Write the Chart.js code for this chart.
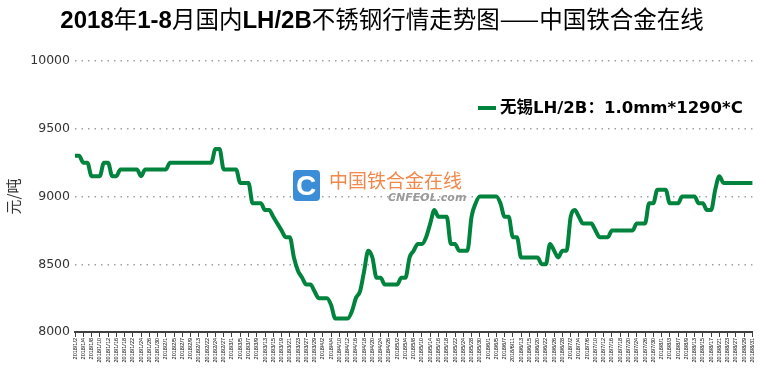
<!DOCTYPE html>
<html>
<head>
<meta charset="utf-8">
<script src="https://cdn.jsdelivr.net/npm/chart.js@4/dist/chart.umd.min.js"></script>
<style>
html, body { margin: 0; padding: 0; background: #fff; }
#wrap { width: 760px; height: 373px; }
</style>
</head>
<body>
<div id="wrap"><canvas id="priceChart" width="760" height="373"></canvas></div>
<script>
// Titres et légende
const chartTitle = '2018年1-8月国内LH/2B不锈钢行情走势图——中国铁合金在线';
const seriesName = '无锡LH/2B：1.0mm*1290*C';
const yAxisTitle = '元/吨';
const yTicks = [8000, 8500, 9000, 9500, 10000];

// Jours de cotation 2018
const dates = [
    '2018/1/2','2018/1/3','2018/1/4','2018/1/5','2018/1/8','2018/1/9','2018/1/10','2018/1/11','2018/1/12','2018/1/15',
    '2018/1/16','2018/1/17','2018/1/18','2018/1/19','2018/1/22','2018/1/23','2018/1/24','2018/1/25','2018/1/26','2018/1/29',
    '2018/1/30','2018/1/31',
    '2018/2/1','2018/2/2','2018/2/5','2018/2/6','2018/2/7','2018/2/8','2018/2/9','2018/2/12','2018/2/13','2018/2/14',
    '2018/2/22','2018/2/23','2018/2/24','2018/2/26','2018/2/27','2018/2/28',
    '2018/3/1','2018/3/2','2018/3/5','2018/3/6','2018/3/7','2018/3/8','2018/3/9','2018/3/12','2018/3/13','2018/3/14',
    '2018/3/15','2018/3/16','2018/3/19','2018/3/20','2018/3/21','2018/3/22','2018/3/23','2018/3/26','2018/3/27','2018/3/28',
    '2018/3/29','2018/3/30',
    '2018/4/2','2018/4/3','2018/4/4','2018/4/9','2018/4/10','2018/4/11','2018/4/12','2018/4/13','2018/4/16','2018/4/17',
    '2018/4/18','2018/4/19','2018/4/20','2018/4/23','2018/4/24','2018/4/25','2018/4/26','2018/4/27',
    '2018/5/2','2018/5/3','2018/5/4','2018/5/7','2018/5/8','2018/5/9','2018/5/10','2018/5/11','2018/5/14','2018/5/15',
    '2018/5/16','2018/5/17','2018/5/18','2018/5/21','2018/5/22','2018/5/23','2018/5/24','2018/5/25','2018/5/28','2018/5/29',
    '2018/5/30','2018/5/31',
    '2018/6/1','2018/6/4','2018/6/5','2018/6/6','2018/6/7','2018/6/8','2018/6/11','2018/6/12','2018/6/13','2018/6/14',
    '2018/6/15','2018/6/19','2018/6/20','2018/6/21','2018/6/22','2018/6/25','2018/6/26','2018/6/27','2018/6/28','2018/6/29',
    '2018/7/2','2018/7/3','2018/7/4','2018/7/5','2018/7/6','2018/7/9','2018/7/10','2018/7/11','2018/7/12','2018/7/13',
    '2018/7/16','2018/7/17','2018/7/18','2018/7/19','2018/7/20','2018/7/23','2018/7/24','2018/7/25','2018/7/26','2018/7/27',
    '2018/7/30','2018/7/31',
    '2018/8/1','2018/8/2','2018/8/3','2018/8/6','2018/8/7','2018/8/8','2018/8/9','2018/8/10','2018/8/13','2018/8/14',
    '2018/8/15','2018/8/16','2018/8/17','2018/8/20','2018/8/21','2018/8/22','2018/8/23','2018/8/24','2018/8/27','2018/8/28',
    '2018/8/29','2018/8/30','2018/8/31'
];

// Prix (元/吨)
const prices = [
    9300, 9300, 9250, 9250, 9150, 9150, 9150, 9250, 9250, 9150,
    9150, 9200, 9200, 9200, 9200, 9200, 9150, 9200, 9200, 9200,
    9200, 9200, 9200, 9250, 9250, 9250, 9250, 9250, 9250, 9250,
    9250, 9250, 9250, 9250, 9350, 9350, 9200, 9200, 9200, 9200,
    9100, 9100, 9100, 8950, 8950, 8950, 8900, 8900, 8850, 8800,
    8750, 8700, 8700, 8550, 8450, 8400, 8350, 8350, 8300, 8250,
    8250, 8250, 8200, 8100, 8100, 8100, 8100, 8150, 8250, 8300,
    8450, 8600, 8550, 8400, 8400, 8350, 8350, 8350, 8350, 8400,
    8400, 8550, 8600, 8650, 8650, 8700, 8800, 8900, 8850, 8850,
    8850, 8650, 8650, 8600, 8600, 8600, 8850, 8950, 9000, 9000,
    9000, 9000, 9000, 8950, 8850, 8850, 8700, 8700, 8550, 8550,
    8550, 8550, 8550, 8500, 8500, 8650, 8600, 8550, 8600, 8600,
    8850, 8900, 8850, 8800, 8800, 8800, 8750, 8700, 8700, 8700,
    8750, 8750, 8750, 8750, 8750, 8750, 8800, 8800, 8800, 8950,
    8950, 9050, 9050, 9050, 8950, 8950, 8950, 9000, 9000, 9000,
    9000, 8950, 8950, 8900, 8900, 9050, 9150, 9100, 9100, 9100,
    9100, 9100, 9100, 9100, 9100
];

const lineColor = '#00843D';

// Titre : chiffres en gras, caractères chinois en normal
const titlePlugin = {
    id: 'mixedTitle',
    afterDraw(chart) {
        const ctx = chart.ctx;
        const parts = chartTitle.match(/[\u4e00-\u9fff\u2014]+|[^\u4e00-\u9fff\u2014]+/g);
        const latinFont = 'bold 24px "Liberation Sans Narrow", "Liberation Sans", sans-serif';
        const cjkFont = '23.5px "Noto Sans CJK SC", sans-serif';
        const isCjk = s => /[\u4e00-\u9fff\u2014]/.test(s);
        let total = 0;
        parts.forEach(p => {
            ctx.font = isCjk(p) ? cjkFont : latinFont;
            total += ctx.measureText(p).width;
        });
        let x = 382 - total / 2;
        ctx.save();
        ctx.fillStyle = '#000';
        ctx.textBaseline = 'alphabetic';
        parts.forEach(p => {
            ctx.font = isCjk(p) ? cjkFont : latinFont;
            ctx.fillText(p, x, 28);
            x += ctx.measureText(p).width;
        });
        ctx.restore();
    }
};

// Légende dans la zone du graphique
const legendPlugin = {
    id: 'innerLegend',
    afterDraw(chart) {
        const ctx = chart.ctx;
        const ds = chart.data.datasets[0];
        ctx.save();
        ctx.strokeStyle = ds.borderColor;
        ctx.lineWidth = 4;
        ctx.beginPath();
        ctx.moveTo(478, 108);
        ctx.lineTo(496, 108);
        ctx.stroke();
        ctx.fillStyle = '#000';
        ctx.font = 'bold 16.5px "DejaVu Sans", "Noto Sans CJK SC", sans-serif';
        ctx.textBaseline = 'middle';
        ctx.fillText(ds.label, 500, 109);
        ctx.restore();
    }
};

// Filigrane du site
const watermarkPlugin = {
    id: 'watermark',
    beforeDatasetsDraw(chart) {
        const ctx = chart.ctx;
        ctx.save();
        ctx.fillStyle = '#3C8DD8';
        ctx.beginPath();
        ctx.roundRect(293, 170, 27, 31, 4);
        ctx.fill();
        ctx.fillStyle = '#fff';
        ctx.font = 'bold 28px "Liberation Sans", sans-serif';
        ctx.textBaseline = 'middle';
        ctx.textAlign = 'center';
        ctx.fillText('C', 306, 187);
        ctx.textAlign = 'left';
        ctx.fillStyle = '#F2884B';
        ctx.font = '19px "Noto Sans CJK SC", sans-serif';
        ctx.fillText('中国铁合金在线', 329, 181);
        ctx.fillStyle = '#9a9a9a';
        ctx.font = 'italic bold 11px "DejaVu Sans", sans-serif';
        ctx.fillText('CNFEOL.com', 388, 198);
        ctx.restore();
    }
};

const ctx = document.getElementById('priceChart').getContext('2d');
new Chart(ctx, {
    type: 'line',
    data: {
        labels: dates,
        datasets: [{
            label: seriesName,
            data: prices,
            borderColor: lineColor,
            backgroundColor: lineColor,
            borderWidth: 4,
            pointRadius: 0,
            cubicInterpolationMode: 'monotone',
            fill: false
        }]
    },
    options: {
        responsive: false,
        animation: false,
        layout: { padding: { top: 61, right: 5, left: 0, bottom: 0 } },
        plugins: {
            legend: { display: false },
            title: { display: false },
            tooltip: { enabled: false }
        },
        scales: {
            x: {
                type: 'category',
                offset: false,
                afterFit(scale) { scale.height = 41; },
                border: { color: '#404040', width: 2 },
                grid: {
                    drawOnChartArea: false,
                    drawTicks: true,
                    tickLength: 5,
                    tickColor: '#404040',
                    tickWidth: 1
                },
                ticks: {
                    autoSkip: false,
                    maxRotation: 90,
                    minRotation: 90,
                    padding: 1,
                    color: '#000',
                    font: { size: 5.5, family: '"Liberation Sans", sans-serif' },
                    callback(value, index) {
                        return index % 2 === 0 ? this.getLabelForValue(value) : null;
                    }
                }
            },
            y: {
                min: yTicks[0],
                max: yTicks[yTicks.length - 1],
                afterFit(scale) { scale.width = 75; },
                afterBuildTicks(scale) { scale.ticks = yTicks.map(v => ({ value: v })); },
                border: { display: false, dash: [1.5, 5] },
                grid: {
                    drawTicks: false,
                    color: c => c.tick && c.tick.value === yTicks[0] ? 'rgba(0,0,0,0)' : '#a0a0a0',
                    lineWidth: 1.5
                },
                ticks: {
                    padding: 5,
                    color: '#333',
                    font: { size: 12.5, family: '"DejaVu Sans", sans-serif' },
                    callback: v => String(v)
                },
                title: {
                    display: true,
                    text: yAxisTitle,
                    color: '#333',
                    padding: { top: 4, bottom: 0 },
                    font: { size: 15, family: '"Noto Sans CJK SC", sans-serif' }
                }
            }
        }
    },
    plugins: [titlePlugin, legendPlugin, watermarkPlugin]
});
</script>
</body>
</html>
